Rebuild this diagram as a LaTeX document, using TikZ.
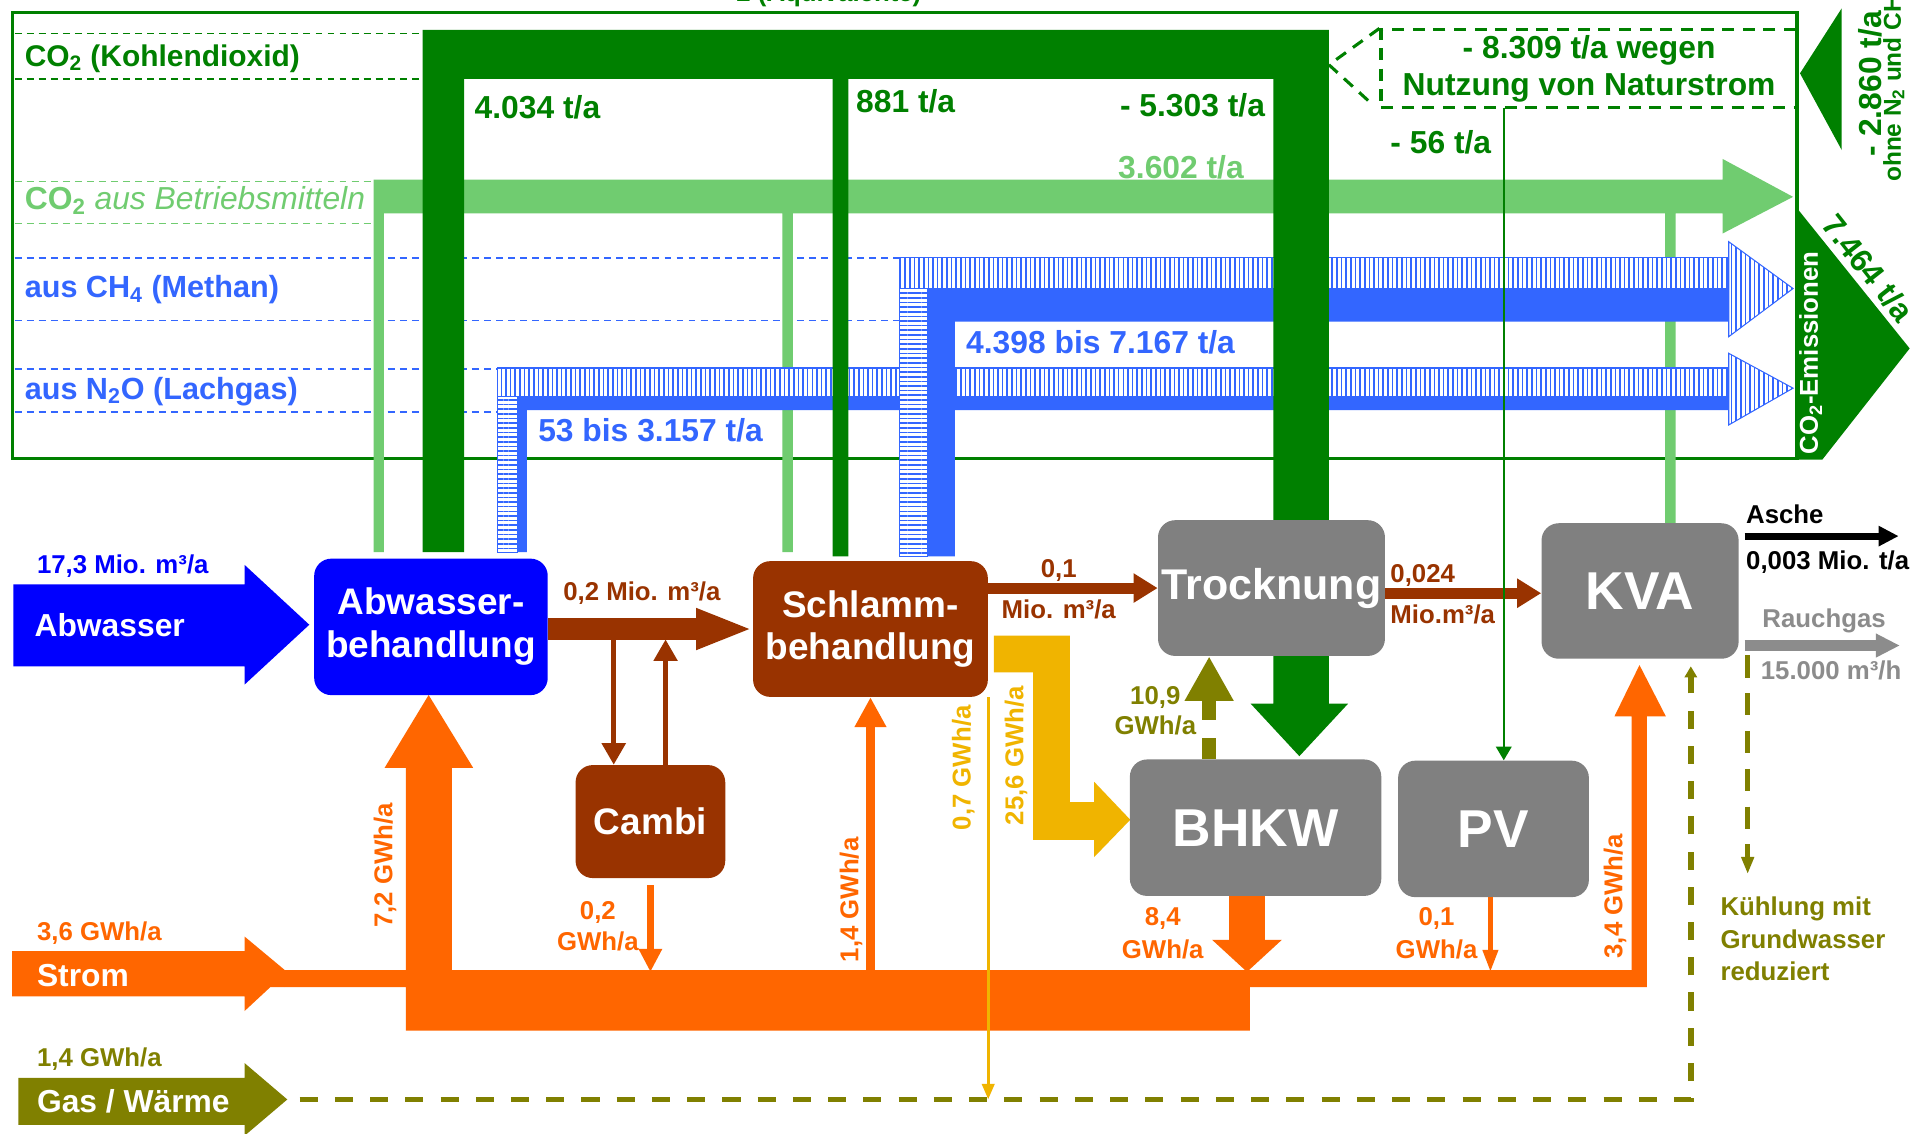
\documentclass[tikz,border=0pt]{standalone}
\usepackage{fontspec}
\setmainfont{Liberation Sans}
\usepackage{tikz}
\usetikzlibrary{arrows.meta, patterns.meta}
\definecolor{co2green}{HTML}{008000}
\definecolor{mittelgreen}{HTML}{70CC70}
\definecolor{flowblue}{HTML}{3366FF}
\definecolor{wasserblue}{HTML}{0000FF}
\definecolor{schlammbrown}{HTML}{993300}
\definecolor{anlagegrey}{HTML}{808080}
\definecolor{rauchgrey}{HTML}{8C8C8C}
\definecolor{stromorange}{HTML}{FF6600}
\definecolor{gasolive}{HTML}{808000}
\definecolor{biogasyellow}{HTML}{F0B400}

\begin{document}
\begin{tikzpicture}[x=0.025cm, y=-0.025cm,
  boxnode/.style={rectangle, rounded corners=10pt, inner sep=0pt, align=center, text=white, font=\bfseries\fontsize{21.5}{25}\selectfont},
  greynode/.style={boxnode, fill=anlagegrey, font=\bfseries\fontsize{31}{36}\selectfont},
  smalltext/.style={inner sep=0pt, align=center, font=\bfseries\fontsize{15}{18}\selectfont},
  valuetext/.style={inner sep=0pt, font=\bfseries\fontsize{18.5}{22}\selectfont},
  guideline/.style={line width=0.9pt, dash pattern=on 4pt off 3pt},
  hatchflow/.style={draw=flowblue, line width=0.6pt, preaction={fill=white}, pattern={Lines[angle=90, distance=2.7pt, line width=0.95pt]}, pattern color=flowblue},
  hatchflowv/.style={draw=flowblue, line width=0.6pt, preaction={fill=white}, pattern={Lines[angle=0, distance=2.7pt, line width=0.95pt]}, pattern color=flowblue},
  olivedash/.style={gasolive, dash pattern=on 10.5pt off 10pt}
]
  \useasboundingbox[fill=white] (0,0) rectangle (1568,927);

  % Emissionsrahmen
  \node[valuetext, font=\bfseries\fontsize{15}{18}\selectfont, text=co2green, anchor=base] (aequi) at (678,1.5) {2 (Äquivalente)};
  \draw[co2green, line width=2pt] (10,10) rectangle (1470,375);
  \draw[guideline, co2green] (12,27.3) -- (345.6,27.3) (12,64.6) -- (345.6,64.6);
  \draw[guideline, mittelgreen] (12,148.6) -- (305.5,148.6) (12,182.7) -- (305.5,182.7);
  \draw[guideline, flowblue] (12,211) -- (736,211) (12,262.3) -- (736,262.3);
  \draw[guideline, flowblue] (12,302) -- (407,302) (12,337.2) -- (407,337.2);

  \node[valuetext, font=\bfseries\fontsize{17.4}{20}\selectfont, text=co2green, anchor=west] (lblco2) at (20,48) {CO\textsubscript{2} (Kohlendioxid)};
  \node[valuetext, text=mittelgreen, anchor=west] (lblmittel) at (20,164) {CO\textsubscript{2} {\mdseries\itshape aus Betriebsmitteln}};
  \node[valuetext, font=\bfseries\fontsize{17.8}{20}\selectfont, text=flowblue, anchor=west] (lblch4) at (20,237) {aus CH\textsubscript{4} (Methan)};
  \node[valuetext, font=\bfseries\fontsize{17.8}{20}\selectfont, text=flowblue, anchor=west] (lbln2o) at (20,320) {aus N\textsubscript{2}O (Lachgas)};

  % CO2 aus Betriebsmitteln
  \fill[mittelgreen] (305.5,451.6) -- (305.5,147) -- (1409,147) -- (1409,130) -- (1466.6,161) -- (1409,191) -- (1409,174.5)
    -- (1370.5,174.5) -- (1370.5,428) -- (1362,428) -- (1362,174.5) -- (648.6,174.5) -- (648.6,451.6) -- (640,451.6)
    -- (640,174.5) -- (314,174.5) -- (314,451.6) -- cycle;

  % N2O
  \path[hatchflow] (407,301) rectangle (1414,324.5);
  \path[hatchflowv] (407,324.5) rectangle (423,451.6);
  \fill[flowblue] (423,451.6) -- (423,324.5) -- (1414,324.5) -- (1414,335.4) -- (431,335.4) -- (431,451.6) -- cycle;
  \path[hatchflow] (1414,289) -- (1466.6,317.5) -- (1414,347.6) -- cycle;

  % CH4
  \path[hatchflow] (736,211) rectangle (1414,236);
  \path[hatchflowv] (736,236) rectangle (759,455);
  \fill[flowblue] (759,455) -- (759,236) -- (1414,236) -- (1414,263) -- (781,263) -- (781,455) -- cycle;
  \path[hatchflow] (1414,197.7) -- (1466.6,236) -- (1414,275.4) -- cycle;

  % CO2 (Kohlendioxid)
  \fill[co2green] (345.6,451.6) -- (345.6,24.5) -- (1087,24.5) -- (1087,575.6) -- (1102.6,575.6) -- (1062.8,618.5)
    -- (1023,575.6) -- (1041.5,575.6) -- (1041.5,64.6) -- (694,64.6) -- (694,455) -- (681,455) -- (681,64.6)
    -- (379.7,64.6) -- (379.7,451.6) -- cycle;

  \node[valuetext, text=co2green, anchor=west] (v4034) at (388,88) {4.034 t/a};
  \node[valuetext, text=co2green, anchor=west] (v881) at (700,83) {881 t/a};
  \node[valuetext, text=co2green, anchor=east] (v5303) at (1035,86) {- 5.303 t/a};
  \node[valuetext, text=mittelgreen] (v3602) at (966,137) {3.602 t/a};
  \node[valuetext, text=co2green, anchor=west] (v56) at (1137,116) {- 56 t/a};
  \node[valuetext, text=flowblue, anchor=west] (vch4) at (790,280) {4.398 bis 7.167 t/a};
  \node[valuetext, text=flowblue, anchor=west] (vn2o) at (440,352) {53 bis 3.157 t/a};

  % Naturstrom
  \node[valuetext, align=center, text=co2green, draw=co2green, line width=1.8pt, dash pattern=on 7pt off 5pt,
    minimum width=8.51cm, minimum height=1.5875cm] (naturbox) at (1299.8,56.25) {- 8.309 t/a wegen\\[0pt]Nutzung von Naturstrom};
  \draw[co2green, line width=1.8pt, dash pattern=on 7pt off 5pt] (naturbox.north west) -- (1087,53) -- (1121,84);

  % Bilanz rechts
  \fill[co2green] (1472.3,60) -- (1506.4,6.8) -- (1506.4,122.7) -- cycle;
  \fill[co2green] (1470,170.5) -- (1562,285) -- (1490.5,376) -- (1470,376) -- cycle;
  \node[valuetext, text=co2green, rotate=90, anchor=west] (v2860) at (1530,128) {- 2.860 t/a};
  \node[valuetext, font=\bfseries\fontsize{14.2}{16}\selectfont, text=co2green, rotate=90, anchor=west] (ohne) at (1549,149) {ohne N\textsubscript{2} und CH\textsubscript{4}};
  \node[smalltext, text=white, rotate=90, anchor=west] (emis) at (1481,372) {CO\textsubscript{2}-Emissionen};
  \node[valuetext, text=co2green, rotate=-51.8] (v7464) at (1528,219) {7.464 t/a};

  % Zufluesse
  \fill[wasserblue] (11,478) -- (200,478) -- (200,462) -- (253,511) -- (200,560) -- (200,545) -- (11,545) -- cycle;
  \fill[stromorange] (10,778) -- (200,778) -- (200,766) -- (233,793.5) -- (233,807.5) -- (221,807.5) -- (200,827)
    -- (200,815) -- (10,815) -- cycle;
  \fill[gasolive] (15,881.7) -- (200,881.7) -- (200,869.5) -- (235,899.3) -- (200,929) -- (200,920) -- (15,920) -- cycle;
  \node[valuetext, text=white, anchor=west] (abwasser) at (28,511) {Abwasser};
  \node[valuetext, text=white, anchor=west] (strom) at (30,798) {Strom};
  \node[valuetext, text=white, anchor=west] (gas) at (30,901) {Gas / Wärme};
  \node[smalltext, text=wasserblue, anchor=west] (v173) at (30,463) {17,3 Mio. m³/a};
  \node[smalltext, text=stromorange, anchor=west] (v36) at (30,763) {3,6 GWh/a};
  \node[smalltext, text=gasolive, anchor=west] (v14gas) at (30,866) {1,4 GWh/a};

  % Stromverteilung
  \fill[stromorange] (233,793.5) -- (332,793.5) -- (332,628) -- (314.6,628) -- (350.6,568.5) -- (387,628) -- (369.6,628)
    -- (369.6,793.5) -- (1334.5,793.5) -- (1334.5,586) -- (1320.5,586) -- (1341,544) -- (1362.6,586) -- (1347,586)
    -- (1347,807.5) -- (1022.4,807.5) -- (1022.4,843) -- (332,843) -- (332,807.5) -- (233,807.5) -- cycle;

  % Biogas
  \fill[biogasyellow] (813,520) -- (875,520) -- (875,656) -- (895,656) -- (895,639.5) -- (924.5,670.5) -- (895,701)
    -- (895,687) -- (845,687) -- (845,550) -- (813,550) -- cycle;

  % Anlagen
  \node[boxnode, fill=wasserblue, minimum width=4.775cm, minimum height=2.79cm] (abw) at (352.5,512.75) {Abwasser-\\behandlung};
  \node[boxnode, fill=schlammbrown, minimum width=4.8cm, minimum height=2.775cm] (schlamm) at (712,514.5) {Schlamm-\\behandlung};
  \node[boxnode, fill=schlammbrown, minimum width=3.06cm, minimum height=2.31cm] (cambi) at (532,672) {Cambi};
  \node[greynode, font=\bfseries\fontsize{25}{30}\selectfont, minimum width=4.64cm, minimum height=2.775cm] (trocknung) at (1040,481) {Trocknung};
  \node[greynode, minimum width=4.03cm, minimum height=2.77cm] (kva) at (1341.5,483.4) {KVA};
  \node[greynode, minimum width=5.14cm, minimum height=2.79cm] (bhkw) at (1027,677) {BHKW};
  \node[greynode, minimum width=3.9cm, minimum height=2.79cm] (pv) at (1221.6,678) {PV};

  \coordinate (bus) at (0,795);
  \coordinate (abwtocambi) at (502,523);
  \coordinate (cambitoschlamm) at (544.4,523);
  \coordinate (nullsechs) at (1230,88);
  \coordinate (ascheaus) at (1427,438.5);
  \coordinate (ascheend) at (1553,438.5);
  \coordinate (rauchaus) at (1427,528);
  \coordinate (rauchend) at (1554,528);
  \coordinate (kuehlaus) at (1429.5,536);
  \coordinate (kuehlend) at (1429.5,715);
  \coordinate (gasend) at (245,899.3);
  \coordinate (kvawaerme) at (1383,545);
  \coordinate (tk) at ([yshift=-3pt]trocknung.east);

  % Schlammweg
  \draw[schlammbrown, line width=12.8pt, -{Triangle[length=33pt,width=21.8pt]}] (abw.east |- schlamm.west) -- (schlamm.west);
  \draw[schlammbrown, line width=2.9pt, -{Triangle[length=12.5pt,width=13.4pt]}] (abwtocambi) -- (abwtocambi |- cambi.north);
  \draw[schlammbrown, line width=2.9pt, -{Triangle[length=12.5pt,width=13.4pt]}] (cambitoschlamm |- cambi.north) -- (cambitoschlamm);
  \draw[schlammbrown, line width=6.4pt, -{Triangle[length=14pt,width=16.2pt]}] (schlamm.east |- trocknung.west) -- (trocknung.west);
  \draw[schlammbrown, line width=6.4pt, -{Triangle[length=14pt,width=16.2pt]}] (tk) -- (tk -| kva.west);

  % Strom aus Anlagen
  \draw[stromorange, line width=5.7pt, -{Triangle[length=17.4pt,width=17.4pt]}] (schlamm.south |- bus) -- (schlamm.south);
  \draw[stromorange, line width=3.6pt, -{Triangle[length=13.4pt,width=12.8pt]}] ([yshift=-4pt]cambi.south) -- (cambi.south |- bus);
  \draw[stromorange, line width=21pt, -{Triangle[length=18.7pt,width=39.5pt]}] ([xshift=-5pt]bhkw.south) -- ([xshift=-5pt]bhkw.south |- bus);
  \draw[stromorange, line width=2.85pt, -{Triangle[length=12.8pt,width=8.5pt]}] ([xshift=-1.8pt]pv.south) -- ([xshift=-1.8pt]pv.south |- bus);

  % Waerme
  \draw[olivedash, line width=3.2pt, -{Triangle[length=6.4pt,width=7pt]}] (gasend) -| (kvawaerme);
  \draw[gasolive, line width=8.5pt, dash pattern=on 12pt off 11pt, -{Triangle[length=26pt,width=26.7pt]}] (bhkw.north -| 989,0) -- (trocknung.south -| 989,0);
  \draw[gasolive, line width=2.85pt, dash pattern=on 13pt off 9pt, -{Triangle[length=10pt,width=7pt]}] (kuehlaus) -- (kuehlend);
  \draw[biogasyellow, line width=2pt, -{Triangle[length=9pt,width=7pt]}] (schlamm.south east) -- (schlamm.south east |- gasend);

  % KVA Ausgaenge
  \draw[black, line width=4pt, -{Triangle[length=11.7pt,width=11.2pt]}] (ascheaus) -- (ascheend);
  \draw[rauchgrey, line width=6.3pt, -{Triangle[length=14pt,width=13pt]}] (rauchaus) -- (rauchend);
  \draw[co2green, line width=1.4pt, -{Triangle[length=8pt,width=9pt]}] (nullsechs) -- (nullsechs |- pv.north);

  % Beschriftungen
  \node[smalltext, text=schlammbrown] (v02m) at (525,485) {0,2 Mio. m³/a};
  \node[smalltext, text=schlammbrown, font=\bfseries\fontsize{15}{24.2}\selectfont] (v01m) at (866,482) {0,1\\Mio. m³/a};
  \node[smalltext, text=schlammbrown, align=left, anchor=west, font=\bfseries\fontsize{15}{24.2}\selectfont] (v0024) at (1137,486) {0,024\\Mio.m³/a};
  \node[smalltext, text=gasolive, font=\bfseries\fontsize{15}{17.8}\selectfont] (v109) at (945,581.5) {10,9\\GWh/a};
  \node[smalltext, text=stromorange, font=\bfseries\fontsize{15}{17.8}\selectfont] (v02g) at (489,757.5) {0,2\\GWh/a};
  \node[smalltext, text=stromorange, font=\bfseries\fontsize{15}{19.2}\selectfont] (v84) at (951,763.5) {8,4\\GWh/a};
  \node[smalltext, text=stromorange, font=\bfseries\fontsize{15}{19.2}\selectfont] (v01g) at (1175,763.5) {0,1\\GWh/a};
  \node[smalltext, text=stromorange, rotate=90] (v72) at (315,708) {7,2 GWh/a};
  \node[smalltext, text=stromorange, rotate=90] (v14) at (696,736) {1,4 GWh/a};
  \node[smalltext, text=stromorange, rotate=90] (v34) at (1321,733) {3,4 GWh/a};
  \node[smalltext, text=biogasyellow, rotate=90] (v07) at (788,628) {0,7 GWh/a};
  \node[smalltext, text=biogasyellow, rotate=90] (v256) at (831,618) {25,6 GWh/a};
  \node[smalltext, anchor=west] (asche) at (1428,421) {Asche};
  \node[smalltext, anchor=west] (v0003) at (1428,460) {0,003 Mio. t/a};
  \node[smalltext, text=rauchgrey] (rauchgas) at (1492,508) {Rauchgas};
  \node[smalltext, text=rauchgrey, anchor=west] (v15000) at (1440,548) {15.000 m³/h};
  \node[smalltext, text=gasolive, align=left, anchor=west, font=\bfseries\fontsize{15}{18.8}\selectfont] (kuehlung) at (1407,768) {Kühlung mit\\Grundwasser\\reduziert};
\end{tikzpicture}
\end{document}
